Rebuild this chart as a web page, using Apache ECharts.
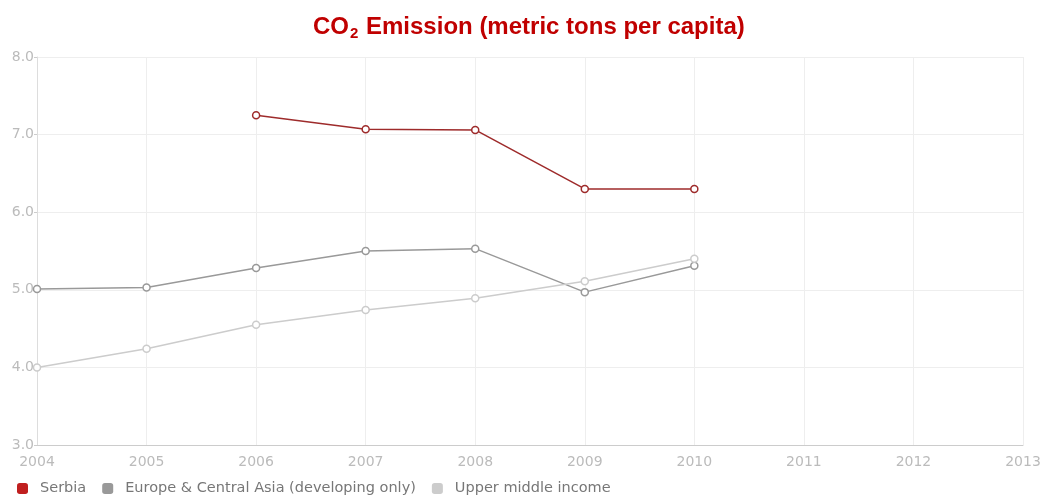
<!DOCTYPE html>
<html><head><meta charset="utf-8">
<script src="https://cdn.jsdelivr.net/npm/echarts@6/dist/echarts.min.js"></script>
<style>html,body{margin:0;padding:0;background:#fff}#c{width:1044px;height:499px}</style>
</head><body><div id="c"></div>
<script>
const years = ['2004','2005','2006','2007','2008','2009','2010','2011','2012','2013'];
const serbia = [null, null, 7.25, 7.07, 7.06, 6.30, 6.30, null, null, null];
const europe = [5.01, 5.03, 5.28, 5.50, 5.53, 4.97, 5.31, null, null, null];
const upperMiddle = [4.00, 4.24, 4.55, 4.74, 4.89, 5.11, 5.40, null, null, null];
const yTicks = [3, 8, 1];

const chart = echarts.init(document.getElementById('c'), null, {renderer:'canvas'});
function s(name, data, color, lw){
  return {name, type:'line', data, symbol:'circle', symbolSize:7, showSymbol:true,
    connectNulls:false, lineStyle:{color, width:lw},
    itemStyle:{color:'#fff', borderColor:color, borderWidth:1.5},
    emphasis:{disabled:true}};
}
const lf = 'DejaVu Sans, Verdana, sans-serif';
chart.setOption({
  animation:false,
  title:{text:'{a|CO}{s|2}{a| Emission (metric tons per capita)}', left:308, top:9,
    textStyle:{rich:{
      a:{fontFamily:'Liberation Sans, Arial', fontWeight:'bold', fontSize:24, color:'#c00000'},
      s:{fontFamily:'Liberation Sans, Arial', fontWeight:'bold', fontSize:15, color:'#c00000', verticalAlign:'bottom', padding:[12,1,0,1]}
    }}},
  grid:{left:37, right:21, top:57, bottom:54},
  legend:{left:12, top:476, itemWidth:11, itemHeight:11, itemGap:16, icon:'roundRect',
    textStyle:{color:'#777', fontSize:14.5, fontFamily:lf, padding:[0,0,0,7]},
    data:[{name:'Serbia', itemStyle:{color:'#c01f1f', borderWidth:0}},
          {name:'Europe & Central Asia (developing only)', itemStyle:{color:'#999', borderWidth:0}},
          {name:'Upper middle income', itemStyle:{color:'#ccc', borderWidth:0}}]},
  xAxis:{type:'category', data:years, boundaryGap:false,
    axisLine:{lineStyle:{color:'#ccc'}}, axisTick:{show:false},
    axisLabel:{color:'#bbb', fontSize:14, fontFamily:lf, margin:10},
    splitLine:{show:true, lineStyle:{color:'#eee'}}},
  yAxis:{type:'value', min:yTicks[0], max:yTicks[1], interval:yTicks[2],
    axisLine:{show:true, lineStyle:{color:'#ddd'}}, axisTick:{show:true, length:3, lineStyle:{color:'#ccc'}},
    axisLabel:{color:'#bbb', fontSize:14, fontFamily:lf, margin:3,
      formatter:v=>v.toFixed(1)},
    splitLine:{lineStyle:{color:'#eee'}}},
  series:[
    s('Serbia', serbia, '#9e2b2b', 1.5),
    s('Europe & Central Asia (developing only)', europe, '#999', 1.5),
    s('Upper middle income', upperMiddle, '#ccc', 1.5)
  ]
});
</script></body></html>
